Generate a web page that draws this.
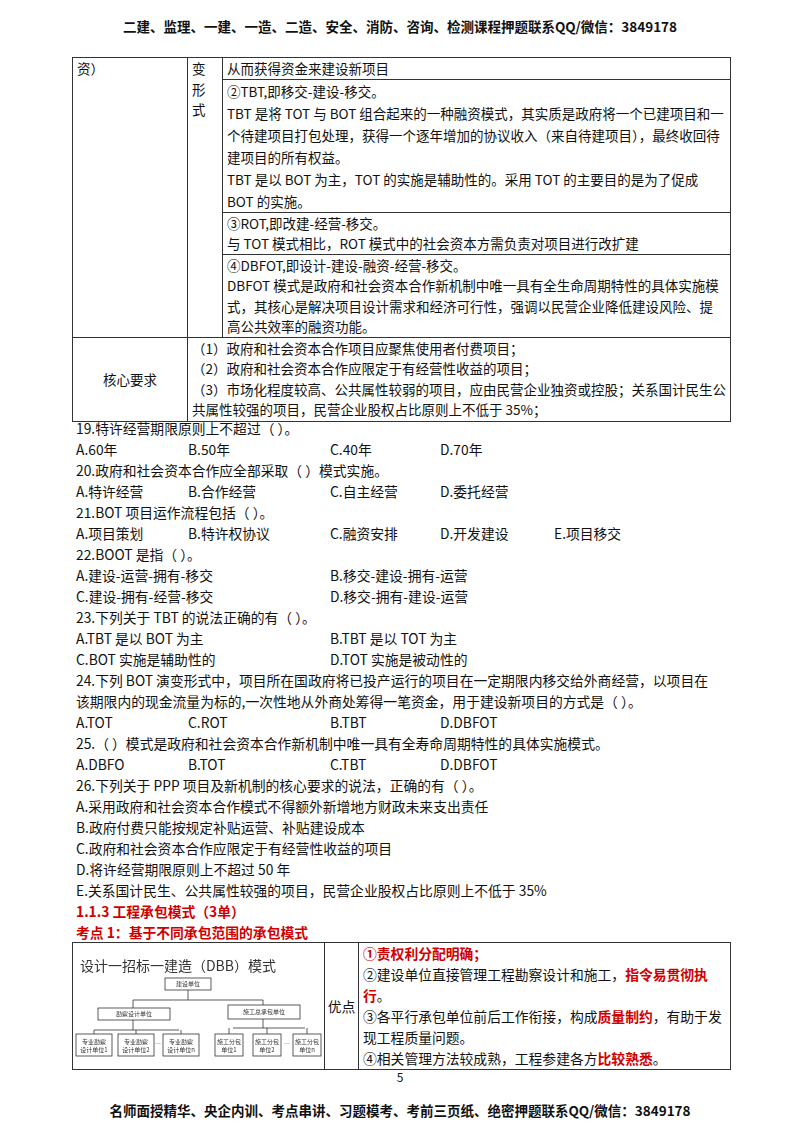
<!DOCTYPE html>
<html><head><meta charset="utf-8">
<script src="https://cdn.jsdelivr.net/npm/chart.js@4/dist/chart.umd.min.js"></script>
<style>
body{margin:0;width:800px;height:1132px;background:#fff;font-family:"Noto Sans CJK SC","DejaVu Sans",sans-serif;color:#111;position:relative;overflow:hidden}
.hd{position:absolute;left:0;width:800px;text-align:center;font-weight:bold;font-size:13.5px}
table{border-collapse:collapse;position:absolute;left:72px;width:659px;font-size:13.5px;line-height:20.5px;table-layout:fixed}
td{border:1px solid #333;padding:0 4px;vertical-align:top;overflow:hidden}
.q{position:absolute;left:76px;top:418px;font-size:13.8px;line-height:21px;width:660px}
.q div{white-space:nowrap;position:relative;height:21px}
.q span{position:absolute}
.red{color:#d00000;font-weight:bold}
</style></head><body>
<div class="hd" style="top:16px">二建、监理、一建、一造、二造、安全、消防、咨询、检测课程押题联系QQ/微信：3849178</div>
<table style="top:57px">
<colgroup><col style="width:115px"><col style="width:35px"><col></colgroup>
<tr style="height:21px"><td rowspan="4">资）</td><td rowspan="4">变<br>形<br>式</td><td>从而获得资金来建设新项目</td></tr>
<tr style="height:132px"><td style="line-height:22px">②TBT,即移交-建设-移交。<br>TBT 是将 TOT 与 BOT 组合起来的一种融资模式，其实质是政府将一个已建项目和一个待建项目打包处理，获得一个逐年增加的协议收入（来自待建项目），最终收回待建项目的所有权益。<br>TBT 是以 BOT 为主，TOT 的实施是辅助性的。采用 TOT 的主要目的是为了促成 BOT 的实施。</td></tr>
<tr style="height:40px"><td>③ROT,即改建-经营-移交。<br>与 TOT 模式相比，ROT 模式中的社会资本方需负责对项目进行改扩建</td></tr>
<tr style="height:83px"><td>④DBFOT,即设计-建设-融资-经营-移交。<br>DBFOT 模式是政府和社会资本合作新机制中唯一具有全生命周期特性的具体实施模式，其核心是解决项目设计需求和经济可行性，强调以民营企业降低建设风险、提高公共效率的融资功能。</td></tr>
<tr style="height:84px"><td style="vertical-align:middle;text-align:center;padding:0">核心要求</td><td colspan="2">（1）政府和社会资本合作项目应聚焦使用者付费项目；<br>（2）政府和社会资本合作应限定于有经营性收益的项目；<br>（3）市场化程度较高、公共属性较弱的项目，应由民营企业独资或控股；关系国计民生公共属性较强的项目，民营企业股权占比原则上不低于 35%；</td></tr>
</table>
<div class="q">
<div>19.特许经营期限原则上不超过（  ）。</div>
<div><span style="left:0">A.60年</span><span style="left:112px">B.50年</span><span style="left:254px">C.40年</span><span style="left:364px">D.70年</span></div>
<div>20.政府和社会资本合作应全部采取（  ）模式实施。</div>
<div><span style="left:0">A.特许经营</span><span style="left:112px">B.合作经营</span><span style="left:254px">C.自主经营</span><span style="left:364px">D.委托经营</span></div>
<div>21.BOT 项目运作流程包括（  ）。</div>
<div><span style="left:0">A.项目策划</span><span style="left:112px">B.特许权协议</span><span style="left:254px">C.融资安排</span><span style="left:364px">D.开发建设</span><span style="left:478px">E.项目移交</span></div>
<div>22.BOOT 是指（  ）。</div>
<div><span style="left:0">A.建设-运营-拥有-移交</span><span style="left:254px">B.移交-建设-拥有-运营</span></div>
<div><span style="left:0">C.建设-拥有-经营-移交</span><span style="left:254px">D.移交-拥有-建设-运营</span></div>
<div>23.下列关于 TBT 的说法正确的有（  ）。</div>
<div><span style="left:0">A.TBT 是以 BOT 为主</span><span style="left:254px">B.TBT 是以 TOT 为主</span></div>
<div><span style="left:0">C.BOT 实施是辅助性的</span><span style="left:254px">D.TOT 实施是被动性的</span></div>
<div>24.下列 BOT 演变形式中，项目所在国政府将已投产运行的项目在一定期限内移交给外商经营，以项目在</div>
<div>该期限内的现金流量为标的,一次性地从外商处筹得一笔资金，用于建设新项目的方式是（  ）。</div>
<div><span style="left:0">A.TOT</span><span style="left:112px">C.ROT</span><span style="left:254px">B.TBT</span><span style="left:364px">D.DBFOT</span></div>
<div>25.（  ）模式是政府和社会资本合作新机制中唯一具有全寿命周期特性的具体实施模式。</div>
<div><span style="left:0">A.DBFO</span><span style="left:112px">B.TOT</span><span style="left:254px">C.TBT</span><span style="left:364px">D.DBFOT</span></div>
<div>26.下列关于 PPP 项目及新机制的核心要求的说法，正确的有（  ）。</div>
<div>A.采用政府和社会资本合作模式不得额外新增地方财政未来支出责任</div>
<div>B.政府付费只能按规定补贴运营、补贴建设成本</div>
<div>C.政府和社会资本合作应限定于有经营性收益的项目</div>
<div>D.将许经营期限原则上不超过 50 年</div>
<div>E.关系国计民生、公共属性较强的项目，民营企业股权占比原则上不低于 35%</div>
<div class="red">1.1.3 工程承包模式（3单）</div>
<div class="red">考点 1：基于不同承包范围的承包模式</div>
</div>
<table style="top:942px;font-size:13.8px;line-height:21px">
<colgroup><col style="width:252px"><col style="width:34px"><col></colgroup>
<tr style="height:106px"><td style="padding:0;position:relative;vertical-align:middle">
<canvas id="c" width="250" height="104" style="display:block"></canvas></td>
<td style="vertical-align:middle;text-align:center;padding:0">优点</td>
<td><span class="red">①责权利分配明确；</span><br>②建设单位直接管理工程勘察设计和施工，<span class="red">指令易贯彻执行</span>。<br>③各平行承包单位前后工作衔接，构成<span class="red">质量制约</span>，有助于发现工程质量问题。<br>④相关管理方法较成熟，工程参建各方<span class="red">比较熟悉</span>。</td></tr>
</table>
<div style="position:absolute;top:1068px;width:800px;text-align:center;font-size:12px">5</div>
<div class="hd" style="top:1100px">名师面授精华、央企内训、考点串讲、习题模考、考前三页纸、绝密押题联系QQ/微信：3849178</div>
<script>
const boxLabels=["建设单位","勘察设计单位","施工总承包单位","专业勘察|设计单位1","专业勘察|设计单位2","专业勘察|设计单位n","施工分包|单位1","施工分包|单位2","施工分包|单位n"];
const ctx=document.getElementById('c').getContext('2d');
ctx.fillStyle='#333';ctx.textAlign='center';
ctx.font='14px "Noto Sans CJK SC"';
ctx.fillText('设计一招标一建造（DBB）模式',105,17);
function box(x,y,w,h,t){ctx.strokeRect(x,y,w,h);ctx.font='6px "Noto Sans CJK SC"';const p=t.split('|');
 if(p.length==1)ctx.fillText(t,x+w/2,y+h/2+2);else{ctx.fillText(p[0],x+w/2,y+h/2-1);ctx.fillText(p[1],x+w/2,y+h/2+7);}}
ctx.strokeStyle='#333';ctx.lineWidth=0.8;
box(92,24,46,12,boxLabels[0]);box(25,54,72,12,boxLabels[1]);box(155,51,72,14,boxLabels[2]);
ctx.beginPath();ctx.moveTo(115,36);ctx.lineTo(115,46);ctx.moveTo(60,46);ctx.lineTo(190,46);ctx.moveTo(60,46);ctx.lineTo(60,54);ctx.moveTo(190,46);ctx.lineTo(190,51);
ctx.moveTo(60,66);ctx.lineTo(60,76);ctx.moveTo(21,76);ctx.lineTo(106,76);ctx.moveTo(190,65);ctx.lineTo(190,74);ctx.moveTo(160,74);ctx.lineTo(232,74);ctx.stroke();
const xs=[3,45,90,142,180,220];
xs.forEach((x,i)=>{box(x,80,i<3?36:28,22,boxLabels[3+i]);ctx.beginPath();ctx.moveTo(x+(i<3?18:14),i<3?76:74);ctx.lineTo(x+(i<3?18:14),80);ctx.stroke();});
ctx.fillText('…',85,92);ctx.fillText('…',214,92);
</script>
</body></html>
